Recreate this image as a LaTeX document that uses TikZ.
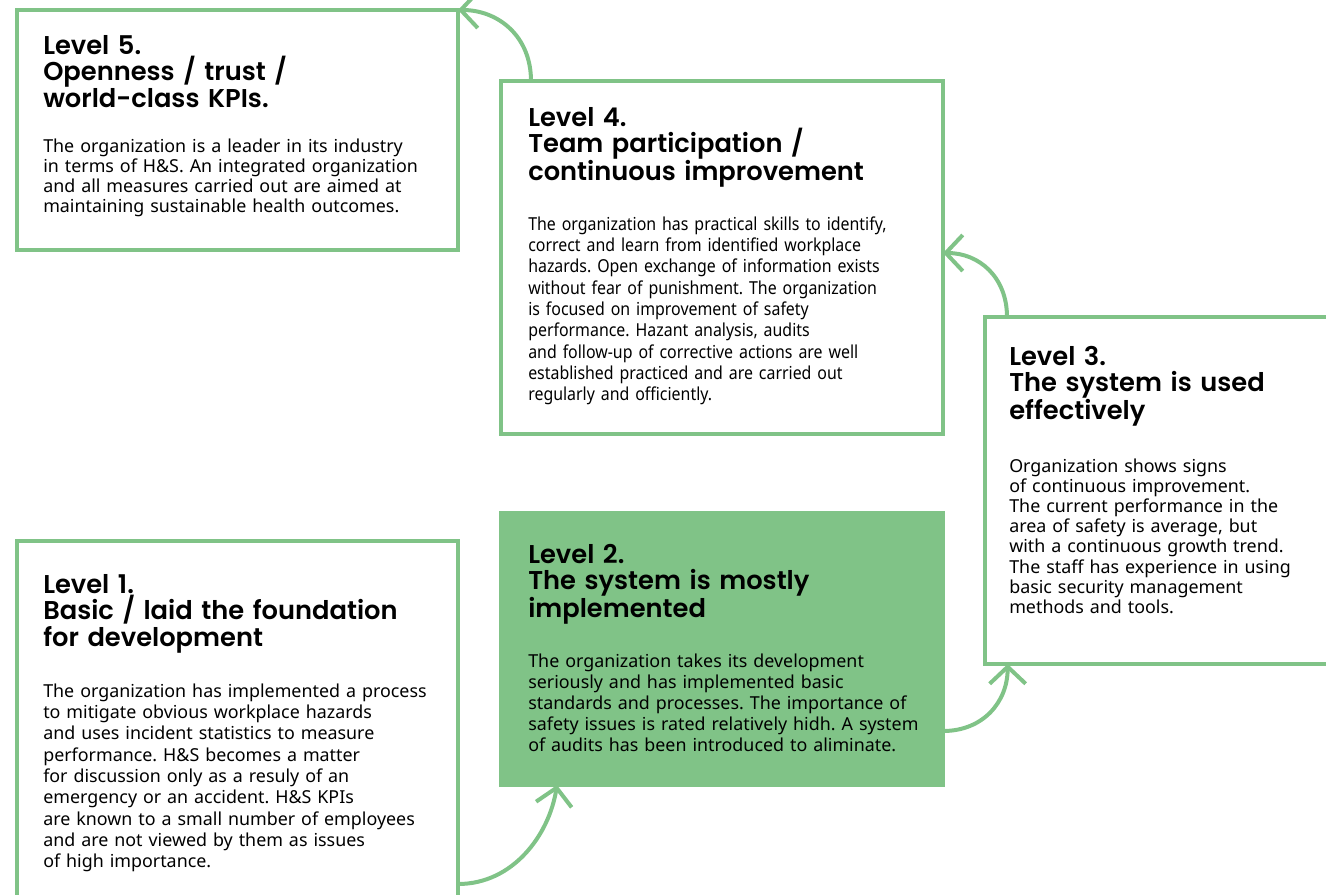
\documentclass[tikz,border=0pt]{standalone}
\usepackage{fontspec}
\setmainfont{Noto Sans}
\newfontfamily\titlefont[BoldFont={Poppins SemiBold}]{Poppins}
\newfontfamily\condfont[FakeStretch=0.89]{Noto Sans}
\usetikzlibrary{arrows.meta}
\definecolor{lvgreen}{RGB}{128,195,135}
\frenchspacing

\begin{document}
\begin{tikzpicture}[x=0.75pt,y=-0.75pt,
  lvbox/.style={draw=lvgreen, line width=2.3pt, rectangle, inner sep=0pt,
    outer sep=0pt, anchor=north west},
  lvtitle/.style={anchor=base west, inner sep=0pt, text width=320pt, align=left,
    font=\titlefont\bfseries\fontsize{19.3}{19.9}\selectfont},
  lvbody/.style={anchor=base west, inner sep=0pt, text width=320pt, align=left,
    font=\frenchspacing\fontsize{13.4}{#1}\selectfont},
  lvbody/.default=15.6,
  flow/.style={draw=lvgreen, line width=3pt,
    -{Straight Barb[length=12.75pt,width=27pt]}}
]
\useasboundingbox (0,0) rectangle (1326,894);

% the five level boxes
\node[lvbox, minimum width=330.75pt, minimum height=180pt] (l5) at (17,10) {};
\node[lvbox, minimum width=331.5pt, minimum height=264.75pt] (l4) at (501,81) {};
\node[lvbox, minimum width=266.25pt, minimum height=260.25pt] (l3) at (985,317) {};
\node[lvbox, fill=lvgreen, minimum width=331.5pt, minimum height=204pt] (l2) at (501,513) {};
\node[lvbox, minimum width=330.75pt, minimum height=273pt] (l1) at (17,541) {};

% level 5
\node[lvtitle] (t5) at (43,54) {Level 5.\\Openness / trust /\\world-class KPIs.};
\node[lvbody=15.2] (b5) at (43,152) {The organization is a leader in its industry\\
in terms of H\&S. An integrated organization\\
and all measures carried out are aimed at\\
maintaining sustainable health outcomes.};

% level 4
\node[lvtitle] (t4) at (528,126) {Level 4.\\Team participation /\\continuous improvement};
\node[lvbody=16, font=\condfont\frenchspacing\fontsize{13.4}{16}\selectfont] (b4) at (528,230) {The organization has practical skills to identify,\\
correct and learn from identified workplace\\
hazards. Open exchange of information exists\\
without fear of punishment. The organization\\
is focused on improvement of safety\\
performance. Hazant analysis, audits\\
and follow-up of corrective actions are well\\
established practiced and are carried out\\
regularly and officiently.};

% level 3
\node[lvtitle] (t3) at (1009,365) {Level 3.\\The system is used\\effectively};
\node[lvbody=15.15] (b3) at (1009,472) {Organization shows signs\\
of continuous improvement.\\
The current performance in the\\
area of safety is average, but\\
with a continuous growth trend.\\
The staff has experience in using\\
basic security management\\
methods and tools.};

% level 2
\node[lvtitle] (t2) at (528,563) {Level 2.\\The system is mostly\\implemented};
\node[lvbody=15.9] (b2) at (528,667) {The organization takes its development\\
seriously and has implemented basic\\
standards and processes. The importance of\\
safety issues is rated relatively hidh. A system\\
of audits has been introduced to aliminate.};

% level 1
\node[lvtitle] (t1) at (43,593) {Level 1.\\Basic / laid the foundation\\for development};
\node[lvbody=16] (b1) at (43,697) {The organization has implemented a process\\
to mitigate obvious workplace hazards\\
and uses incident statistics to measure\\
performance. H\&S becomes a matter\\
for discussion only as a resuly of an\\
emergency or an accident. H\&S KPIs\\
are known to a small number of employees\\
and are not viewed by them as issues\\
of high importance.};

% curved arrows leading from one level to the next
\draw[flow] ([yshift=15.75pt]l1.south east) .. controls +(55,0) and +(-8,50) .. ([xshift=42pt]l2.south west);
\draw[flow] ([yshift=40.5pt]l2.south east) .. controls +(40,0) and +(0,38) .. ([xshift=17pt]l3.south west);
\draw[flow] ([xshift=16.5pt]l3.north west) .. controls +(0,-40) and +(36,0) .. ([yshift=-129pt]l4.north east);
\draw[flow] ([xshift=22.5pt]l4.north west) .. controls +(0,-45) and +(40,0) .. (l5.north east);
\end{tikzpicture}
\end{document}
